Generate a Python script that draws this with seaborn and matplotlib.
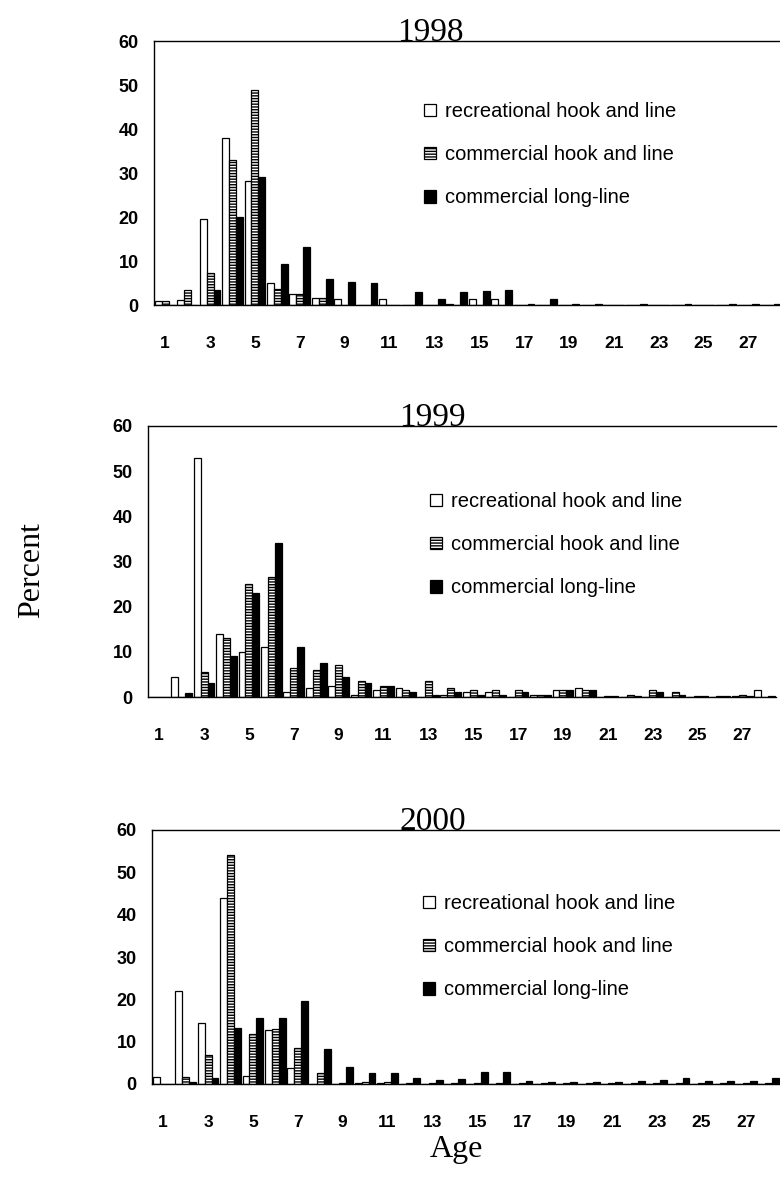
import numpy as np
import pandas as pd
import matplotlib
matplotlib.use("Agg")
import matplotlib.pyplot as plt
from matplotlib.patches import Patch
import seaborn as sns

# ---------------- data ----------------
ages = list(range(1, 29))
gears = ["recreational hook and line", "commercial hook and line", "commercial long-line"]
years = ["1998", "1999", "2000"]

rec_1998 = [1.0, 1.2, 19.5, 38.0, 28.2, 5.0, 2.5, 1.5, 1.4, 0, 1.4, 0, 0, 0.3, 1.3, 1.4, 0, 0, 0, 0, 0, 0, 0, 0, 0, 0, 0, 0]
chl_1998 = [1.0, 3.5, 7.2, 33.0, 48.8, 3.7, 2.6, 1.6, 0, 0, 0, 0, 0, 0, 0, 0, 0, 0, 0, 0, 0, 0, 0, 0, 0, 0, 0, 0]
ll_1998 = [0, 0, 3.5, 20.0, 29.2, 9.3, 13.2, 5.8, 5.2, 5.0, 0, 3.0, 1.3, 3.0, 3.2, 3.3, 0.2, 1.4, 0.2, 0.2, 0, 0.2, 0, 0.2, 0, 0.2, 0.2, 0.2]

rec_1999 = [0, 4.5, 53.0, 14.0, 10.0, 11.0, 1.0, 2.0, 2.5, 0.5, 1.5, 2.0, 0, 0.5, 1.0, 1.0, 0, 0.5, 1.5, 2.0, 0, 0, 0, 0, 0, 0, 0.3, 1.5]
chl_1999 = [0, 0, 5.5, 13.0, 25.0, 26.5, 6.5, 6.0, 7.0, 3.5, 2.5, 1.5, 3.5, 2.0, 1.5, 1.5, 1.5, 0.5, 1.5, 1.5, 0.3, 0.5, 1.5, 1.0, 0.3, 0.3, 0.5, 0]
ll_1999 = [0, 0.8, 3.0, 9.0, 23.0, 34.0, 11.0, 7.5, 4.5, 3.0, 2.5, 1.0, 0.5, 1.0, 0.5, 0.5, 1.0, 0.5, 1.5, 1.5, 0.3, 0.3, 1.0, 0.5, 0.3, 0.3, 0.3, 0.3]

rec_2000 = [1.6, 22.0, 14.5, 44.0, 1.8, 12.8, 3.7, 0, 0, 0.3, 0.3, 0, 0, 0, 0, 0, 0, 0, 0, 0, 0, 0, 0, 0, 0, 0, 0, 0]
chl_2000 = [0, 1.6, 6.8, 54.0, 11.8, 13.0, 8.5, 2.5, 0.3, 0.5, 0.5, 0.3, 0.3, 0.3, 0.3, 0.3, 0.3, 0.3, 0.3, 0.3, 0.3, 0.3, 0.3, 0.3, 0.3, 0.3, 0.3, 0.3]
ll_2000 = [0, 0.4, 1.4, 13.3, 15.5, 15.5, 19.7, 8.3, 4.0, 2.5, 2.5, 1.5, 1.0, 1.2, 2.8, 2.8, 0.6, 0.5, 0.5, 0.5, 0.4, 0.6, 1.0, 1.5, 0.8, 0.6, 0.6, 1.5]

series = {
    "1998": [rec_1998, chl_1998, ll_1998],
    "1999": [rec_1999, chl_1999, ll_1999],
    "2000": [rec_2000, chl_2000, ll_2000],
}

# ---------------- style ----------------
sns.set_style("white")
plt.rcParams["font.family"] = ["Liberation Sans", "DejaVu Sans"]
plt.rcParams["hatch.linewidth"] = 1.0
plt.rcParams["hatch.color"] = "black"
for key in ["text.color", "axes.labelcolor", "xtick.color", "ytick.color", "axes.edgecolor"]:
    plt.rcParams[key] = "black"

W, H = 780, 1180
fig = plt.figure(figsize=(W / 100, H / 100), dpi=100)

# panel boxes in pixels: left, top(60), bottom(0)
boxes = [(154, 41, 305), (148, 426, 697), (152, 830, 1084)]
axes_w = 628
legend_pos = [(424, 102), (430, 492), (423, 894)]
title_x = [430, 432, 433]

colors = ["white", "white", "black"]
hatches = ["", "------", ""]
serif = ["Liberation Serif", "DejaVu Serif"]

for i, yr in enumerate(years):
    left, top, bot = boxes[i]
    ax = fig.add_axes([left / W, 1 - bot / H, axes_w / W, (bot - top) / H])
    rows = []
    for g, vals in zip(gears, series[yr]):
        for a, v in zip(ages, vals):
            rows.append({"age": a, "pct": v, "gear": g})
    df = pd.DataFrame(rows)
    sns.barplot(data=df, x="age", y="pct", hue="gear", order=ages, hue_order=gears,
                palette=colors, saturation=1, width=0.92, errorbar=None,
                edgecolor="black", linewidth=0.9, legend=False, ax=ax)
    for c_i, cont in enumerate(ax.containers):
        for p in cont:
            p.set_hatch(hatches[c_i])
            p.set_edgecolor("black")
            p.set_facecolor(colors[c_i])

    ax.set_xlim(-0.5, 27.5)
    ax.set_ylim(0, 60)
    ax.set_xticks(range(0, 27, 2))
    ax.set_xticklabels([str(a) for a in ages[0:27:2]])
    ax.set_xticks(np.arange(-0.5, 28, 1), minor=True)
    ax.set_yticks(range(0, 61, 10))
    ax.tick_params(axis="x", which="major", length=0, pad=22, labelsize=12.5)
    ax.tick_params(axis="x", which="minor", length=5, width=1, direction="out", color="black")
    ax.tick_params(axis="y", length=4, width=1, direction="out", pad=7, labelsize=13, color="black")
    for lab in ax.get_xticklabels() + ax.get_yticklabels():
        lab.set_fontweight("bold")
    ax.set_xlabel("")
    ax.set_ylabel("")
    for s in ["left", "bottom", "top"]:
        ax.spines[s].set_visible(True)
        ax.spines[s].set_color("black")
        ax.spines[s].set_linewidth(1.0)
    ax.spines["right"].set_visible(False)

    tx = (title_x[i] - left) / axes_w
    ax.text(tx, 1.0, yr, transform=ax.transAxes, ha="center", va="baseline",
            fontsize=24, family=serif)

    handles = [Patch(facecolor=colors[k], edgecolor="black", hatch=hatches[k], linewidth=0.9)
               for k in range(3)]
    lx, ly = legend_pos[i]
    ax.legend(handles=handles, labels=gears, loc="upper left",
              bbox_to_anchor=((lx - left) / axes_w, 1 - (ly - top) / (bot - top)),
              frameon=False, fontsize=14.5, handlelength=0.6, handleheight=0.6,
              handletextpad=0.45, labelspacing=1.2, borderpad=0, borderaxespad=0)

fig.text(32 / W, 1 - 570 / H, "Percent", rotation=90, ha="center", va="center",
         fontsize=23, family=serif)
fig.text(456 / W, 1 - 1150 / H, "Age", ha="center", va="center",
         fontsize=23, family=serif)

fig.savefig("out.png", dpi=100)
